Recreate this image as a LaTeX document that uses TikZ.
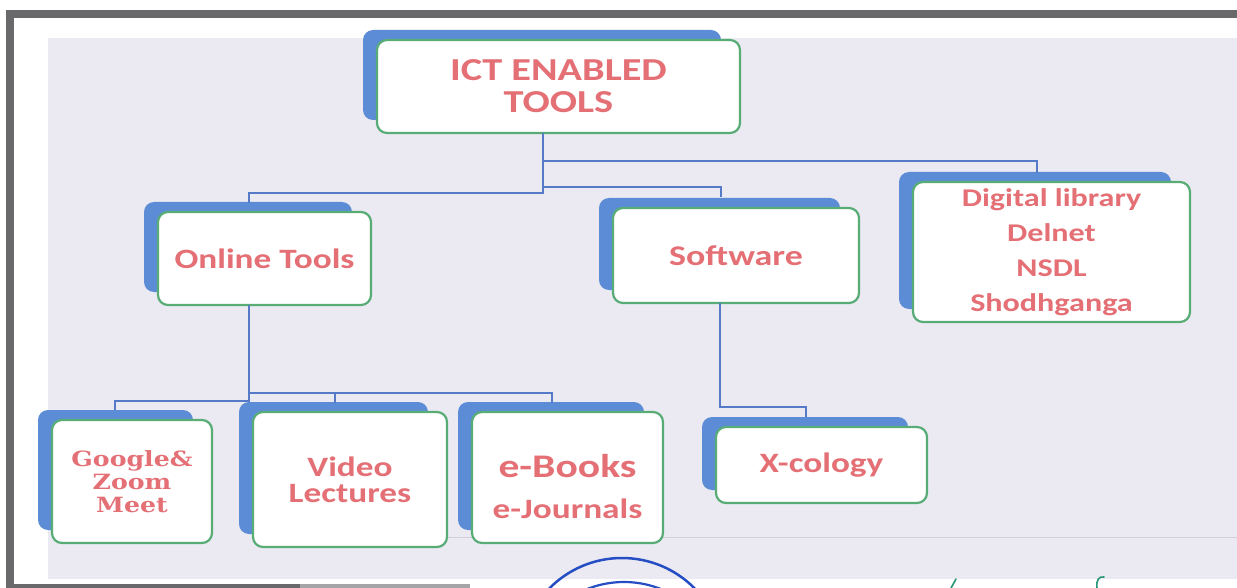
\documentclass[tikz,border=0pt]{standalone}
\usepackage{fontspec}
\newfontfamily\calfont[FakeStretch=1.26]{Carlito}
\newfontfamily\serfont[FakeStretch=1.2]{DejaVu Serif}
\usetikzlibrary{backgrounds}
\definecolor{txtred}{RGB}{228,112,118}
\definecolor{boxgreen}{RGB}{88,172,118}
\definecolor{shblue}{RGB}{92,140,214}
\definecolor{lnblue}{RGB}{84,122,200}
\definecolor{lav}{RGB}{235,234,243}
\definecolor{framegray}{RGB}{105,105,108}
\definecolor{stampblue}{RGB}{38,78,196}
\definecolor{inkgreen}{RGB}{40,150,120}
\definecolor{faintline}{RGB}{214,206,214}
\begin{document}
\begin{tikzpicture}[x=1pt,y=-1pt,
  tbox/.style={draw=boxgreen, line width=2.2pt, fill=white, rounded corners=10pt,
    inner sep=0pt, outer sep=0pt, anchor=north west, align=center, text=txtred},
  cal/.style 2 args={font=\calfont\bfseries\fontsize{#1}{#2}\selectfont},
  conn/.style={draw=lnblue, line width=1.8pt},
  shadowfill/.style={fill=shblue, rounded corners=10pt}]
\clip (0,0) rectangle (1237,588);

% boxes
\node[tbox, minimum width=363pt, minimum height=93pt, cal={32}{32}] (ict) at (377,40) {ICT ENABLED\\TOOLS};
\node[tbox, minimum width=213pt, minimum height=93pt, cal={28}{32}] (online) at (158,212) {Online Tools};
\node[tbox, minimum width=246pt, minimum height=95pt, cal={28.5}{32}] (soft) at (613,208) {Software};
\node[tbox, minimum width=277pt, minimum height=140pt, cal={25.5}{35}] (dig) at (913,182) {Digital library\\Delnet\\NSDL\\Shodhganga};
\node[tbox, minimum width=160pt, minimum height=123pt, font=\serfont\bfseries\fontsize{21}{23}\selectfont] (goog) at (52,420) {Google\&\\Zoom\\Meet};
\node[tbox, minimum width=194pt, minimum height=135pt, cal={28}{26}] (video) at (253,412) {Video\\Lectures};
\node[tbox, minimum width=191pt, minimum height=131pt, cal={28}{34}] (ebook) at (472,412) {{\fontsize{33}{34}\selectfont\rule{0pt}{42pt}e-Books}\\[7pt]e-Journals};
\node[tbox, minimum width=211pt, minimum height=76pt, cal={28}{32}] (xcol) at (716,427) {X-cology};

% connector points
\coordinate (trunk) at (543,193);
\coordinate (bDig) at (543,161);
\coordinate (bSoft) at (543,187);
\coordinate (dDig) at (1037,173);
\coordinate (dSoft) at (721,197);
\coordinate (dOnl) at (249,203);
\coordinate (oJ) at (249,401);
\coordinate (oR) at (249,393);
\coordinate (dGoog) at (115,410);
\coordinate (dVid) at (335,403);
\coordinate (dEb) at (552,403);
\coordinate (sJ) at (720,407);
\coordinate (dX) at (806,417);

\draw[conn] (ict.south -| trunk) -- (trunk) -| (dOnl);
\draw[conn] (bDig) -| (dDig);
\draw[conn] (bSoft) -| (dSoft);
\draw[conn] (online.south -| oJ) -- (oJ) -| (dGoog);
\draw[conn] (oR) -| (dEb);
\draw[conn] (oR -| dVid) -- (dVid);
\draw[conn] (soft.south -| sJ) -- (sJ) -| (dX);

% stamp and handwriting remnants
\draw[stampblue, line width=2.5pt] (622,660) circle[radius=102];
\draw[stampblue, line width=2.2pt] (624,682) circle[radius=100];
\draw[inkgreen, line width=1.6pt, line cap=round] (951,588) .. controls (953,583) .. (956,579);
\draw[inkgreen, line width=1.6pt, line cap=round] (1097,588) .. controls (1096,580) and (1099,576) .. (1104,577);

\begin{scope}[on background layer]
  \fill[white] (0,0) rectangle (1237,588);
  \fill[lav] (48,38) rectangle (1237,579);
  \draw[faintline, line width=1pt] (440,537) -- (1237,537);
  \fill[framegray] (6,10) rectangle (14,588);
  \fill[framegray] (6,10) rectangle (1237,18);
  \fill[framegray] (6,584) rectangle (300,588);
  \fill[framegray!60] (300,584) rectangle (470,588);
  \foreach \n in {ict,online,soft,dig,goog,video,ebook,xcol}
    \fill[shadowfill] ([shift={(-14,-10)}]\n.north west) rectangle ([shift={(-19,-13)}]\n.south east);
\end{scope}
\end{tikzpicture}
\end{document}
